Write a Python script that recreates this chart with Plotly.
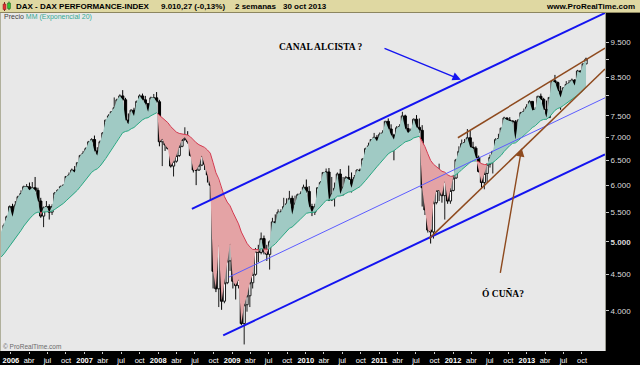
import numpy as np
import pandas as pd
import plotly.graph_objects as go

# ---------------- data (bi-weekly bars, "2 semanas") ----------------
first_bar_start = "2005-11-28"
bar_step = "14D"

# closes before the visible window (only used to warm up the EMA 20)
warmup_close = [4230, 4230, 4300, 4330, 4400, 4350, 4380, 4240, 4280, 4330, 4460, 4590,
                4600, 4590, 4730, 4850, 4900, 4950, 5000, 5040, 4950, 4930, 5050, 5170]

bar_open = [
    5170, 5270, 5420, 5600, 5420, 5630, 5780, 5840, 5970, 5970,
    5900, 5950, 5900, 5700, 5430, 5580, 5600, 5500, 5600, 5850,
    5900, 5970, 6000, 6170, 6200, 6300, 6250, 6450, 6600, 6650,
    6750, 6900, 6950, 6700, 6600, 6900, 7100, 7400, 7500, 7600,
    7700, 7900, 8000, 7900, 7400, 7300, 7640, 7500, 7860, 8000,
    7900, 7800, 7600, 7950, 7950, 7850, 6900, 6970, 6830, 6750,
    6380, 6480, 6600, 6800, 6950, 7000, 6900, 6600, 6300, 6300,
    6400, 6600, 6420, 6200, 6000, 4544, 4295, 4950, 4127, 4380,
    4700, 4970, 4400, 4340, 4430, 3840, 4080, 4200, 4380, 4500,
    4850, 4830, 5050, 4840, 4800, 5000, 5330, 5300, 5500, 5500,
    5600, 5650, 5750, 5460, 5660, 5820, 5830, 5960, 5880, 5600,
    5500, 5600, 5950, 6050, 6250, 6260, 5720, 5830, 5940, 6220,
    5830, 5960, 6150, 6110, 5950, 6150, 6300, 6270, 6530, 6750,
    6810, 6950, 7000, 6914, 7070, 7100, 7370, 7190, 7050, 6950,
    7220, 7250, 7500, 7200, 7100, 7160, 7420, 7230, 7160, 5950,
    5540, 5190, 5160, 5670, 5900, 5900, 5800, 6080, 5700, 5898,
    6140, 6510, 6690, 6860, 6880, 6990, 6780, 6760, 6560, 6270,
    6050, 6230, 6420, 6560, 6690, 6950, 6970, 7210, 7450, 7400,
    7380, 7360, 6950, 7400, 7580, 7610, 7720, 7860, 7630, 7660,
    7990, 7910, 7660, 7460, 7960, 8400, 8350, 8130, 7960, 8210,
    8300, 8340, 8420, 8270, 8670, 8620, 8870]

bar_high = [
    5300, 5440, 5620, 5650, 5700, 5800, 5900, 5990, 6020, 6050,
    6060, 6160, 5950, 5760, 5600, 5700, 5640, 5640, 5870, 5920,
    5990, 6010, 6180, 6250, 6330, 6380, 6460, 6620, 6700, 6780,
    6920, 6980, 7040, 6780, 6930, 7120, 7400, 7540, 7620, 7960,
    7930, 8040, 8150, 7950, 7560, 7660, 7700, 7880, 8040, 8060,
    8000, 7820, 7980, 8050, 8100, 7900, 7000, 7050, 7040, 6800,
    6520, 6700, 6830, 7070, 7230, 7140, 6950, 6650, 6400, 6520,
    6660, 6620, 6500, 6350, 6050, 5000, 5300, 5050, 4720, 4800,
    4990, 5110, 4500, 4700, 4450, 4100, 4300, 4420, 4600, 4900,
    4950, 5150, 5100, 4950, 5020, 5400, 5460, 5550, 5550, 5760,
    5750, 5890, 5800, 5800, 5840, 5880, 6010, 6110, 5980, 5650,
    5650, 5960, 6080, 6260, 6330, 6340, 6160, 6050, 6250, 6320,
    6160, 6180, 6390, 6250, 6200, 6310, 6330, 6540, 6770, 6880,
    6960, 7100, 7050, 7110, 7160, 7380, 7440, 7300, 7080, 7260,
    7300, 7600, 7530, 7310, 7200, 7440, 7520, 7440, 7280, 6100,
    5800, 5650, 5730, 6020, 6430, 6100, 6120, 6150, 5950, 6200,
    6530, 6800, 6950, 6960, 7190, 7150, 6900, 6800, 6600, 6430,
    6320, 6430, 6620, 6700, 6980, 7080, 7220, 7480, 7460, 7470,
    7390, 7400, 7420, 7600, 7680, 7790, 7890, 7870, 7710, 8000,
    8060, 7950, 7880, 7970, 8410, 8560, 8380, 8260, 8230, 8390,
    8420, 8460, 8440, 8700, 8680, 8880, 9050]

bar_low = [
    5150, 5240, 5400, 5330, 5400, 5590, 5750, 5740, 5880, 5870,
    5880, 5870, 5550, 5400, 5240, 5520, 5370, 5450, 5580, 5800,
    5790, 5850, 5990, 6140, 6180, 6200, 6200, 6400, 6520, 6580,
    6700, 6870, 6620, 6440, 6580, 6880, 7080, 7350, 7430, 7580,
    7650, 7860, 7880, 7350, 7270, 7290, 7430, 7480, 7820, 7780,
    7700, 7480, 7580, 7800, 7830, 6800, 6380, 6700, 6730, 6350,
    6170, 6450, 6570, 6780, 6920, 6860, 6580, 6250, 6000, 6280,
    6380, 6300, 6050, 5700, 4300, 4250, 4050, 4014, 4100, 4360,
    4550, 4300, 4150, 4300, 3820, 3590, 3990, 4050, 4300, 4480,
    4680, 4800, 4800, 4700, 4570, 4980, 5180, 5120, 5250, 5480,
    5400, 5600, 5250, 5450, 5500, 5680, 5800, 5850, 5550, 5430,
    5450, 5580, 5900, 6040, 6100, 5700, 5700, 5600, 5820, 5800,
    5800, 5900, 6100, 5860, 5920, 6140, 6150, 6250, 6500, 6650,
    6630, 6920, 6880, 6850, 6990, 7050, 7100, 7000, 6500, 6940,
    6950, 7240, 7100, 7030, 7000, 7070, 7200, 7100, 5600, 5450,
    5150, 4970, 5050, 5640, 5700, 5670, 5370, 5650, 5650, 5880,
    6120, 6350, 6650, 6600, 6870, 6700, 6520, 6510, 6250, 5950,
    5920, 6050, 6350, 6230, 6540, 6860, 6860, 7100, 7140, 7200,
    7120, 6950, 6940, 7380, 7560, 7600, 7620, 7540, 7420, 7520,
    7880, 7640, 7420, 7450, 7940, 8200, 8000, 7650, 7800, 8180,
    8200, 8250, 8100, 8260, 8520, 8480, 8860]

bar_close = [
    5270, 5420, 5600, 5420, 5630, 5780, 5840, 5970, 5970, 5900,
    5950, 5900, 5700, 5430, 5580, 5600, 5500, 5600, 5850, 5900,
    5970, 6000, 6170, 6200, 6300, 6250, 6450, 6600, 6650, 6750,
    6900, 6950, 6700, 6600, 6900, 7100, 7400, 7500, 7600, 7700,
    7900, 8000, 7900, 7400, 7300, 7640, 7500, 7860, 8000, 7900,
    7800, 7600, 7950, 7950, 7850, 6900, 6970, 6830, 6750, 6380,
    6480, 6600, 6800, 6950, 7000, 6900, 6600, 6300, 6300, 6400,
    6600, 6420, 6200, 6000, 4544, 4295, 4950, 4127, 4380, 4700,
    4970, 4400, 4340, 4430, 3840, 4080, 4200, 4380, 4500, 4850,
    4830, 5050, 4840, 4800, 5000, 5330, 5300, 5500, 5500, 5600,
    5650, 5750, 5460, 5660, 5820, 5830, 5960, 5880, 5600, 5500,
    5600, 5950, 6050, 6250, 6260, 5720, 5830, 5940, 6220, 5830,
    5960, 6150, 6110, 5950, 6150, 6300, 6270, 6530, 6750, 6810,
    6950, 7000, 6914, 7070, 7100, 7370, 7190, 7050, 6950, 7220,
    7250, 7500, 7200, 7100, 7160, 7420, 7230, 7160, 5950, 5540,
    5190, 5160, 5670, 5900, 5900, 5800, 6080, 5700, 5898, 6140,
    6510, 6690, 6860, 6880, 6990, 6780, 6760, 6560, 6270, 6050,
    6230, 6420, 6560, 6690, 6950, 6970, 7210, 7450, 7400, 7380,
    7360, 6950, 7400, 7580, 7610, 7720, 7860, 7630, 7660, 7990,
    7910, 7660, 7460, 7960, 8400, 8350, 8130, 7960, 8210, 8300,
    8340, 8420, 8270, 8670, 8620, 8870, 9010]

# hand-drawn lines of the chart: (start date, start price, end date, end price)
channel_upper = ("2008-06-16", 5559, "2014-01-23", 10451)
channel_lower = ("2008-11-18", 3697, "2014-01-23", 6625)
channel_mid = ("2008-12-16", 4460, "2014-01-23", 7951)
wedge_upper = ("2012-01-25", 6990, "2014-01-23", 9332)
wedge_lower = ("2011-09-05", 5049, "2014-01-23", 8725)
# arrows: (tail date, tail price, head date, head price)
arrow_canal = ("2011-01-19", 9341, "2012-02-09", 8430)
arrow_cuna = ("2012-08-21", 4499, "2012-12-06", 6758)
label_canal = ("2010-03-17", 9371, "CANAL ALCISTA ?")
label_cuna = ("2012-09-05", 4233, "Ó CUÑA?")

y_tick_values = [4000, 4500, 5000, 5500, 6000, 6500, 7000, 7500, 8000, 8500, 9000, 9500]
y_tick_labels = ["4.000", "4.500", "<b>5.000</b>", "5.500", "6.000", "6.500", "7.000",
                 "7.500", "", "8.500", "", "9.500"]
x_years = list(range(2006, 2014))
x_months = [(1, None), (4, "abr"), (7, "jul"), (10, "oct")]

# ---------------- derived ----------------
n = len(bar_close)
dates = pd.date_range(first_bar_start, periods=n, freq=bar_step)
warm_dates = pd.date_range(end=dates[0] - pd.Timedelta(bar_step), periods=len(warmup_close), freq=bar_step)
all_dates = list(warm_dates) + list(dates)
all_close = np.array(warmup_close + bar_close, dtype=float)
ema = pd.Series(all_close).ewm(span=20, adjust=False).mean().values

bar_high = [max(h, o, c) for h, o, c in zip(bar_high, bar_open, bar_close)]
bar_low = [min(l, o, c) for l, o, c in zip(bar_low, bar_open, bar_close)]

ts = np.array([d.value / 1e6 for d in all_dates])
lc = np.log10(all_close)
le = np.log10(ema)

runs_up, runs_dn = [], []
cur = [(ts[0], lc[0], le[0])]
cur_sign = 1 if lc[0] >= le[0] else -1
for i in range(1, len(ts)):
    s = 1 if lc[i] >= le[i] else -1
    if s != cur_sign:
        d0 = lc[i - 1] - le[i - 1]
        d1 = lc[i] - le[i]
        f = d0 / (d0 - d1)
        tx = ts[i - 1] + f * (ts[i] - ts[i - 1])
        vx = lc[i - 1] + f * (lc[i] - lc[i - 1])
        cur.append((tx, vx, vx))
        (runs_up if cur_sign > 0 else runs_dn).append(cur)
        cur = [(tx, vx, vx)]
        cur_sign = s
    cur.append((ts[i], lc[i], le[i]))
(runs_up if cur_sign > 0 else runs_dn).append(cur)


def to_dt(ms):
    return pd.to_datetime(ms, unit="ms")


def polygons(runs):
    xs, ys = [], []
    for r in runs:
        fw = [(to_dt(p[0]), 10 ** p[1]) for p in r]
        bw = [(to_dt(p[0]), 10 ** p[2]) for p in reversed(r)]
        pts = fw + bw + [fw[0]]
        xs += [p[0] for p in pts] + [None]
        ys += [p[1] for p in pts] + [None]
    return xs, ys


def ema_path(runs):
    xs, ys = [], []
    for r in runs:
        xs += [to_dt(p[0]) for p in r] + [None]
        ys += [10 ** p[2] for p in r] + [None]
    return xs, ys


GREEN_FILL = "#a0cac4"
RED_FILL = "#e4a3a5"
GREEN_LINE = "#2aa883"
RED_LINE = "#d43a50"

fig = go.Figure()
for runs, col in ((runs_up, GREEN_FILL), (runs_dn, RED_FILL)):
    px_, py_ = polygons(runs)
    fig.add_trace(go.Scatter(x=px_, y=py_, mode="lines", fill="toself", fillcolor=col,
                             line=dict(width=0, color=col), hoverinfo="skip", showlegend=False))
for runs, col in ((runs_up, GREEN_LINE), (runs_dn, RED_LINE)):
    ex, ey = ema_path(runs)
    fig.add_trace(go.Scatter(x=ex, y=ey, mode="lines", line=dict(color=col, width=1),
                             hoverinfo="skip", showlegend=False))

fig.add_trace(go.Candlestick(
    x=dates, open=bar_open, high=bar_high, low=bar_low, close=bar_close,
    increasing=dict(fillcolor="white", line=dict(color="#1a1a1a", width=1)),
    decreasing=dict(fillcolor="black", line=dict(color="black", width=1)),
    whiskerwidth=0, hoverinfo="skip", showlegend=False))

for seg, col, w in ((channel_upper, "#1414f0", 2), (channel_lower, "#1414f0", 2),
                    (channel_mid, "#5c5cff", 1), (wedge_upper, "#8e4a1e", 1.5),
                    (wedge_lower, "#8e4a1e", 1.5)):
    fig.add_trace(go.Scatter(x=[seg[0], seg[2]], y=[seg[1], seg[3]], mode="lines",
                             line=dict(color=col, width=w), hoverinfo="skip", showlegend=False))

for arr, col in ((arrow_canal, "#1414f0"), (arrow_cuna, "#8e4a1e")):
    fig.add_annotation(x=arr[2], y=np.log10(arr[3]), ax=arr[0], ay=np.log10(arr[1]),
                       xref="x", yref="y", axref="x", ayref="y", text="", showarrow=True,
                       arrowhead=2, arrowsize=1.2, arrowwidth=1.4, arrowcolor=col)

for lab in (label_canal, label_cuna):
    fig.add_annotation(x=lab[0], y=np.log10(lab[1]), xref="x", yref="y", text="<b>%s</b>" % lab[2],
                       showarrow=False, font=dict(family="Liberation Serif", size=9.5, color="black"))

# ---------------- frame ----------------
W, H = 640, 365
ML, MR, MT, MB = 0, 35, 13, 12
PW, PH = W - ML - MR, H - MT - MB


def pxx(x):
    return (x - ML) / PW


def pxy(y):
    return (H - MB - y) / PH


shapes = [
    dict(type="rect", xref="paper", yref="paper", x0=pxx(0), x1=pxx(W), y0=pxy(12.5), y1=pxy(0),
         fillcolor="#dfd8a2", line=dict(width=0), layer="above"),
    dict(type="line", xref="paper", yref="paper", x0=pxx(0), x1=pxx(W), y0=pxy(12.5), y1=pxy(12.5),
         line=dict(color="#8c8660", width=1), layer="above"),
    dict(type="line", xref="paper", yref="paper", x0=pxx(0.5), x1=pxx(0.5), y0=0, y1=1,
         line=dict(color="#b0b09c", width=1), layer="above"),
    # small candle icon in the title bar
    dict(type="line", xref="paper", yref="paper", x0=pxx(4.5), x1=pxx(4.5), y0=pxy(11), y1=pxy(2),
         line=dict(color="#802020", width=1), layer="above"),
    dict(type="rect", xref="paper", yref="paper", x0=pxx(3), x1=pxx(6), y0=pxy(9.5), y1=pxy(4),
         fillcolor="#e03030", line=dict(color="#802020", width=0.5), layer="above"),
    dict(type="line", xref="paper", yref="paper", x0=pxx(9), x1=pxx(9), y0=pxy(10), y1=pxy(1.5),
         line=dict(color="#206020", width=1), layer="above"),
    dict(type="rect", xref="paper", yref="paper", x0=pxx(7.5), x1=pxx(10.5), y0=pxy(8.5), y1=pxy(3),
         fillcolor="#30c030", line=dict(color="#206020", width=0.5), layer="above"),
]

title_parts = [
    (14, "<b>DAX - DAX PERFORMANCE-INDEX</b>"),
    (159, "<b>9.010,27 (-0,13%)</b>"),
    (233, "<b>2 semanas</b>"),
    (281, "<b>30 oct 2013</b>"),
]
annotations = []
for x0, txt in title_parts:
    annotations.append(dict(x=pxx(x0), y=pxy(6.5), xref="paper", yref="paper", text=txt,
                            xanchor="left", yanchor="middle", showarrow=False,
                            font=dict(family="Arial", size=8, color="black")))
annotations.append(dict(x=pxx(637), y=pxy(6.5), xref="paper", yref="paper",
                        text="<b>www.ProRealTime.com</b>", xanchor="right", yanchor="middle",
                        showarrow=False, font=dict(family="Arial", size=8, color="black")))
annotations.append(dict(x=pxx(1.5), y=pxy(17.5), xref="paper", yref="paper",
                        text="Precio <span style='color:#33a894'>MM (Exponencial 20)</span>",
                        xanchor="left", yanchor="middle", showarrow=False,
                        font=dict(family="Arial", size=7, color="#404040")))
annotations.append(dict(x=pxx(1), y=pxy(348.5), xref="paper", yref="paper",
                        text="© ProRealTime.com", xanchor="left", yanchor="middle",
                        showarrow=False, font=dict(family="Arial", size=6.5, color="#6a6a6a")))
for a in annotations:
    fig.add_annotation(**a)

tickvals, ticktext = [], []
for yr in x_years:
    for m, lab in x_months:
        tickvals.append("%d-%02d-01" % (yr, m))
        ticktext.append("<b>%d</b>" % yr if lab is None else lab)

fig.update_layout(
    width=W, height=H, margin=dict(l=ML, r=MR, t=MT, b=MB, pad=0),
    paper_bgcolor="black", plot_bgcolor="#e8e8e8", showlegend=False,
    shapes=shapes, hovermode=False, boxgap=0.2, boxgroupgap=0,
    xaxis=dict(type="date", range=["2005-11-08", "2014-01-23"], rangeslider=dict(visible=False),
               showgrid=False, zeroline=False, showline=False, tickvals=tickvals, ticktext=ticktext,
               ticks="outside", ticklen=2, tickcolor="#c8c8c8", tickangle=0,
               tickfont=dict(family="Arial", size=7.5, color="white")),
    yaxis=dict(type="log", range=[np.log10(3515), np.log10(10451)], side="right",
               showgrid=False, zeroline=False, showline=True, linecolor="#9a9a90", linewidth=1,
               tickvals=y_tick_values, ticktext=y_tick_labels, ticks="outside", ticklen=3,
               tickcolor="#c8c8c8", tickfont=dict(family="Arial", size=8, color="#dcdcdc")),
)

fig.write_html("out.html")
